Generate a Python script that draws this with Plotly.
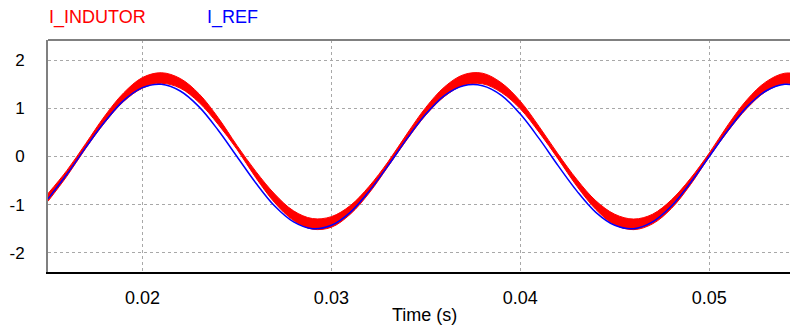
import plotly.graph_objects as go

# time in seconds (sampled every 1 ms)
time_s = [0.015, 0.016, 0.017, 0.018, 0.019, 0.020, 0.021, 0.022, 0.023, 0.024,
          0.025, 0.026, 0.027, 0.028, 0.029, 0.030, 0.031, 0.032, 0.033, 0.034,
          0.035, 0.036, 0.037, 0.038, 0.039, 0.040, 0.041, 0.042, 0.043, 0.044,
          0.045, 0.046, 0.047, 0.048, 0.049, 0.050, 0.051, 0.052, 0.053, 0.054, 0.055]

i_ref = [-0.88, -0.37, 0.19, 0.72, 1.16, 1.43, 1.50, 1.36, 1.03, 0.55,
         0.00, -0.55, -1.03, -1.36, -1.50, -1.43, -1.16, -0.72, -0.19, 0.37,
         0.88, 1.27, 1.47, 1.47, 1.27, 0.88, 0.37, -0.19, -0.72, -1.16,
         -1.43, -1.50, -1.36, -1.03, -0.55, 0.00, 0.55, 1.03, 1.36, 1.50, 1.43]

# I_INDUTOR ripple band envelope (upper / lower)
i_ind_upper = [-0.77, -0.29, 0.27, 0.84, 1.32, 1.64, 1.74, 1.62, 1.30, 0.81,
               0.23, -0.31, -0.78, -1.13, -1.29, -1.25, -1.02, -0.62, -0.11, 0.47,
               1.02, 1.45, 1.70, 1.73, 1.53, 1.15, 0.62, 0.05, -0.48, -0.92,
               -1.20, -1.30, -1.20, -0.90, -0.46, 0.07, 0.66, 1.18, 1.55, 1.73, 1.69]
i_ind_lower = [-0.93, -0.41, 0.17, 0.70, 1.14, 1.42, 1.52, 1.42, 1.12, 0.67,
               0.15, -0.44, -0.96, -1.33, -1.51, -1.47, -1.20, -0.76, -0.21, 0.35,
               0.86, 1.25, 1.48, 1.51, 1.33, 0.99, 0.50, -0.05, -0.62, -1.10,
               -1.42, -1.52, -1.40, -1.08, -0.59, -0.01, 0.53, 1.00, 1.35, 1.51, 1.47]

x_ticks = [0.02, 0.03, 0.04, 0.05]
x_tick_labels = ["0.02", "0.03", "0.04", "0.05"]
y_ticks = [-2, -1, 0, 1, 2]
y_tick_labels = ["-2", "-1", "0", "1", "2"]

RED = "#ff0000"
BLUE = "#0000ff"
FONT = "Liberation Sans, Arial, sans-serif"

# the page body adds an 8 px offset, so the figure is 8 px smaller each way
OFF = 8
W, H = 798 - OFF, 327 - OFF
ML, MR, MT, MB = 48 - OFF, 0, 40 - OFF, 327 - 272
plot_w = W - ML - MR
plot_h = H - MT - MB


def px(xp):
    return (xp - 48) / plot_w


def py(yp):
    return (272 - yp) / plot_h


fig = go.Figure()
fig.add_trace(go.Scatter(x=time_s, y=i_ind_lower, mode="lines",
                         line=dict(color=RED, width=1, shape="spline"),
                         showlegend=False, hoverinfo="skip"))
fig.add_trace(go.Scatter(x=time_s, y=i_ind_upper, mode="lines", fill="tonexty",
                         fillcolor=RED, line=dict(color=RED, width=1, shape="spline"),
                         name="I_INDUTOR", showlegend=False))
fig.add_trace(go.Scatter(x=time_s, y=i_ref, mode="lines",
                         line=dict(color=BLUE, width=1.5, shape="spline"),
                         name="I_REF", showlegend=False))

fig.update_layout(
    width=W, height=H,
    margin=dict(l=ML, r=MR, t=MT, b=MB, autoexpand=False),
    paper_bgcolor="white", plot_bgcolor="white",
    font=dict(family=FONT, color="black"),
    xaxis=dict(range=[0.015, 0.0547], tickvals=x_ticks, ticktext=x_tick_labels,
               showgrid=True, gridcolor="#a8a8a8", griddash="3px,3px", gridwidth=1,
               showline=True, linecolor="black", linewidth=2, ticks="",
               zeroline=False, automargin=False,
               tickfont=dict(size=18, family=FONT, color="black"),
               ticklabelstandoff=8),
    yaxis=dict(range=[-2.40, 2.42], tickvals=y_ticks, ticktext=y_tick_labels,
               showgrid=True, gridcolor="#a8a8a8", griddash="3px,3px", gridwidth=1,
               showline=True, linecolor="#808080", linewidth=2, ticks="",
               zeroline=False, automargin=False,
               tickfont=dict(size=17, family=FONT, color="black"),
               ticklabelstandoff=18),
    shapes=[dict(type="line", xref="paper", yref="paper", x0=0, x1=1, y0=1, y1=1,
                 line=dict(color="#808080", width=2))],
)

fig.add_annotation(text="Time (s)", xref="paper", yref="paper",
                   x=px(424), y=py(315),
                   xanchor="center", yanchor="middle", showarrow=False,
                   font=dict(size=18, family=FONT, color="black"))
fig.add_annotation(text="I_INDUTOR", xref="paper", yref="paper",
                   x=px(47), y=py(17),
                   xanchor="left", yanchor="middle", showarrow=False,
                   font=dict(size=18, family=FONT, color=RED))
fig.add_annotation(text="I_REF", xref="paper", yref="paper",
                   x=px(205), y=py(17),
                   xanchor="left", yanchor="middle", showarrow=False,
                   font=dict(size=18, family=FONT, color=BLUE))

fig.write_html("out.html")
